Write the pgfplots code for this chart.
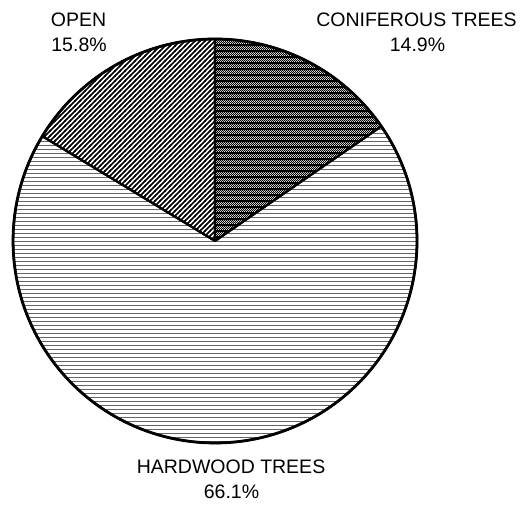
\documentclass[border=0pt]{standalone}
\usepackage{pgfplots}
\usepackage{pgfplotstable}
\pgfplotsset{compat=1.18}
\usepackage{fontspec}
\setmainfont{Liberation Sans}
\usetikzlibrary{patterns}

% horizontal lines (hardwood)
\pgfdeclarepatternformonly{hlinesfine}{\pgfpoint{-1pt}{-1pt}}{\pgfpoint{5pt}{5pt}}{\pgfpoint{4pt}{4pt}}{%
  \pgfpathrectangle{\pgfpoint{-1pt}{0pt}}{\pgfpoint{6pt}{1pt}}\pgfusepath{fill}}
% diagonal lines (open)
\pgfdeclarepatternformonly{nelinesfine}{\pgfpoint{-1pt}{-1pt}}{\pgfpoint{6pt}{6pt}}{\pgfpoint{5pt}{5pt}}{%
  \pgfsetlinewidth{1.6pt}\pgfpathmoveto{\pgfpoint{-1pt}{-1pt}}\pgfpathlineto{\pgfpoint{6pt}{6pt}}\pgfusepath{stroke}}
% checker with stripes (coniferous)
\pgfdeclarepatternformonly{checkstripe}{\pgfpoint{0pt}{0pt}}{\pgfpoint{2pt}{6pt}}{\pgfpoint{2pt}{6pt}}{%
  \pgfpathrectangle{\pgfpoint{0pt}{0pt}}{\pgfpoint{1pt}{1pt}}
  \pgfpathrectangle{\pgfpoint{1pt}{1pt}}{\pgfpoint{1pt}{1pt}}
  \pgfpathrectangle{\pgfpoint{0pt}{2pt}}{\pgfpoint{1pt}{1pt}}
  \pgfpathrectangle{\pgfpoint{1pt}{3pt}}{\pgfpoint{1pt}{1pt}}
  \pgfpathrectangle{\pgfpoint{0pt}{4pt}}{\pgfpoint{2pt}{1.8pt}}
  \pgfusepath{fill}}

\pgfplotstableread{
label pct
Coniferous 14.9
Hardwood 66.1
Open 15.8
}\piedata

\begin{document}
\begin{tikzpicture}
\pgfplotstablegetelem{0}{pct}\of\piedata \let\pa\pgfplotsretval
\pgfplotstablegetelem{1}{pct}\of\piedata \let\pb\pgfplotsretval
\pgfplotstablegetelem{2}{pct}\of\piedata \let\pc\pgfplotsretval
\pgfmathsetmacro{\tot}{\pa+\pb+\pc}
\pgfmathsetmacro{\aA}{90}
\pgfmathsetmacro{\aB}{90-\pa/\tot*360}
\pgfmathsetmacro{\aC}{\aB-\pb/\tot*360}
\pgfmathsetmacro{\aD}{-270}
\begin{axis}[
  width=525pt, height=506pt, scale only axis,
  xmin=0, xmax=525, ymin=0, ymax=506,
  hide axis, clip=false,
]
\path[draw=none] (axis cs:0,0) rectangle (axis cs:525,506);
\draw[line width=2.2pt, pattern=checkstripe, pattern color=black, line join=round]
  (axis cs:215,265) -- ++(\aA:202pt) arc[start angle=\aA, end angle=\aB, radius=202pt] -- cycle;
\draw[line width=2.2pt, pattern=hlinesfine, pattern color=black!60, line join=round]
  (axis cs:215,265) -- ++(\aB:202pt) arc[start angle=\aB, end angle=\aC, radius=202pt] -- cycle;
\draw[line width=2.2pt, pattern=nelinesfine, pattern color=black, line join=round]
  (axis cs:215,265) -- ++(\aC:202pt) arc[start angle=\aC, end angle=\aD, radius=202pt] -- cycle;
\draw[line width=2.8pt] (axis cs:215,265) circle[radius=202pt];

\node[anchor=base, font=\fontsize{19.5}{22}\selectfont, inner sep=0pt] at (axis cs:78.5,479.3) {OPEN};
\node[anchor=base, font=\fontsize{19.5}{22}\selectfont, inner sep=0pt] at (axis cs:79,454.3) {15.8\%};
\node[anchor=base, font=\fontsize{19.5}{22}\selectfont, inner sep=0pt] at (axis cs:416.5,479.3) {CONIFEROUS TREES};
\node[anchor=base, font=\fontsize{19.5}{22}\selectfont, inner sep=0pt] at (axis cs:417.5,454.3) {14.9\%};
\node[anchor=base, font=\fontsize{19.5}{22}\selectfont, inner sep=0pt] at (axis cs:231,32.7) {HARDWOOD TREES};
\node[anchor=base, font=\fontsize{19.5}{22}\selectfont, inner sep=0pt] at (axis cs:231.5,7.7) {66.1\%};
\end{axis}
\end{tikzpicture}
\end{document}
